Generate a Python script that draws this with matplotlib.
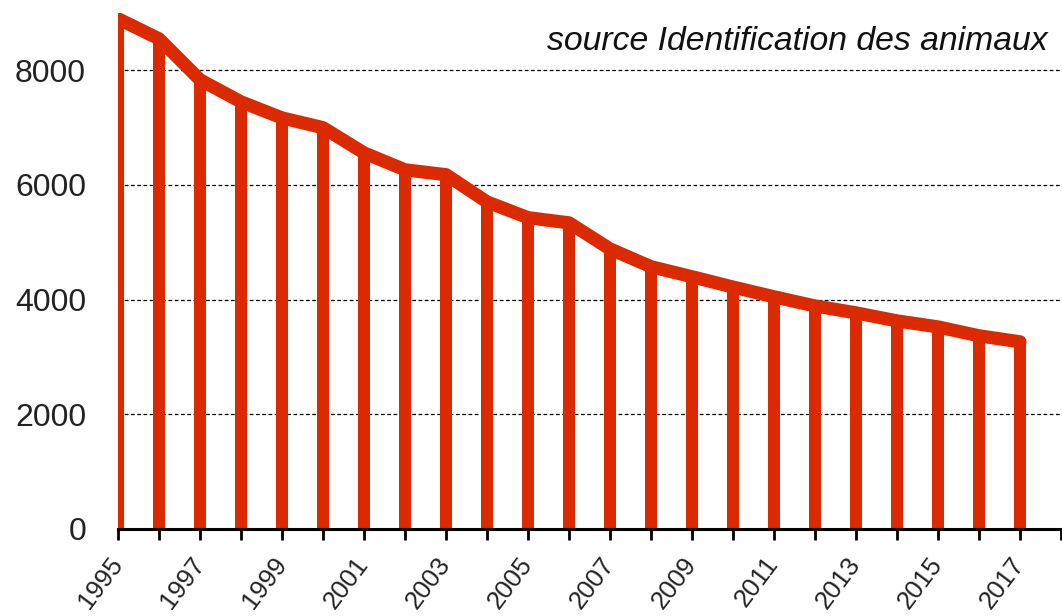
import matplotlib.pyplot as plt

plt.rcParams['font.family'] = ['Liberation Sans', 'DejaVu Sans']

years = list(range(1995, 2018))
values = [8900, 8550, 7835, 7450, 7170, 7000, 6560, 6265, 6180, 5705, 5430, 5340,
          4885, 4575, 4400, 4220, 4050, 3890, 3770, 3630, 3525, 3370, 3265]
y_ticks = [0, 2000, 4000, 6000, 8000]
x_labels = [str(y) if (y - 1995) % 2 == 0 else "" for y in years]
source = "source Identification des animaux"

RED = "#dc2a00"

fig = plt.figure(figsize=(10.62, 6.16), dpi=100)
ax = fig.add_axes([118 / 1062, 87 / 616, (1061 - 118) / 1062, (529 - 13) / 616])

ax.bar(years, values, width=0.28, color=RED, zorder=3)
ax.plot(years, values, color=RED, linewidth=9.5, solid_joinstyle="round",
        solid_capstyle="round", zorder=4)

ax.set_xlim(1995, 2018)
ax.set_ylim(0, 9000)
ax.set_yticks(y_ticks)
ax.set_yticklabels([str(v) for v in y_ticks], fontsize=23)
ax.set_xticks(years + [2018])
ax.set_xticklabels(x_labels + [""], fontsize=18.5, rotation=53, ha="right",
                   va="center", rotation_mode="anchor")

ax.tick_params(axis="y", length=0, pad=23, colors="#222222")
ax.tick_params(axis="x", length=8, width=2, direction="out", pad=14, colors="black")
for lab in ax.get_xticklabels():
    lab.set_color("#222222")

for s in ["top", "right", "left"]:
    ax.spines[s].set_visible(False)
ax.spines["bottom"].set_linewidth(2.2)
ax.spines["bottom"].set_zorder(5)

ax.grid(axis="y", color="black", linestyle=(0, (3, 2)), linewidth=0.9, zorder=1)
ax.set_axisbelow(True)

ax.text(0.986, 0.945, source, transform=ax.transAxes, ha="right", va="center",
        fontsize=24.3, style="italic", color="#111111")

fig.savefig("out.png", dpi=100)
plt.close(fig)
